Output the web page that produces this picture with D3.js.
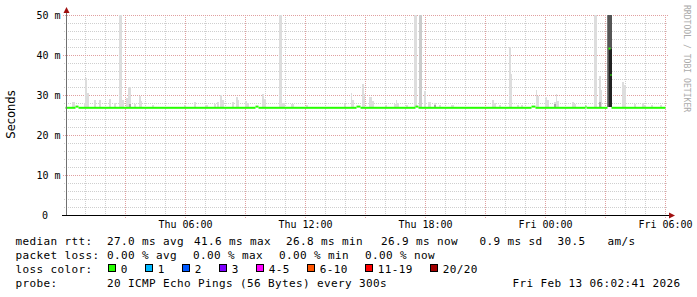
<!DOCTYPE html>
<html><head><meta charset="utf-8">
<script src="https://cdn.jsdelivr.net/npm/d3@7"></script>
<style>
html,body{margin:0;padding:0;background:#fff;}
svg{display:block;}
text{font-family:"DejaVu Sans Mono",monospace;fill:#000;}
</style></head><body>
<svg id="chart" width="697" height="297"></svg>
<script>
// ---------- data ----------
const xTickHours = [6, 12, 18, 24, 30];
const xTickLabels = ["Thu 06:00", "Thu 12:00", "Thu 18:00", "Fri 00:00", "Fri 06:00"];
const yTickValues = [0, 10, 20, 30, 40, 50];
const yTickLabels = ["0", "10 m", "20 m", "30 m", "40 m", "50 m"];

// median rtt in ms, step series: [hour since Thu 00:00, value]  (null = no median drawn)
const medianSteps = [
  [0, 26.8], [0.50, 27.1], [0.65, 26.8], [9.50, 27.1], [9.65, 26.8],
  [14.55, 27.1], [14.75, 26.8], [17.50, 27.1], [17.65, 26.8],
  [23.30, 27.1], [23.50, 26.8], [26.00, 27.1], [26.05, 26.8],
  [27.10, null], [27.15, 41.6], [27.25, 35.0], [27.30, 26.8], [30, null]
];

// smoke (ping spread): [start hour, end hour, top ms, density level]
const smoke = [
  [0.30,0.45,28.25,1],[0.90,0.95,28.0,1],[0.95,1.05,34.2,1],[1.05,1.15,30.6,1],
  [1.40,1.50,28.75,1],[1.65,1.75,28.75,1],[2.15,2.25,29.0,1],[2.40,2.50,28.0,1],
  [2.65,2.80,52,1],[2.80,2.90,28.75,1],[3.00,3.10,29.2,1],[3.10,3.25,32.0,1],
  [3.15,3.25,27.8,3],[3.40,3.50,27.8,1],[3.65,3.75,29.75,1],[3.75,3.80,28.5,1],
  [4.30,4.40,27.5,1],[5.90,6.00,27.5,1],[6.40,6.50,28.2,1],[6.95,7.10,27.5,1],
  [7.40,7.50,27.8,1],[7.55,7.65,28.2,1],[7.70,7.80,30.0,1],[7.80,7.90,28.7,1],
  [8.30,8.40,28.2,1],[8.50,8.60,29.5,1],[8.60,8.65,28.7,1],[8.95,9.05,28.5,1],
  [9.05,9.15,28.0,1],[9.80,9.90,30.25,1],[9.90,10.00,29.0,1],[10.65,10.80,52,1],
  [10.80,10.95,28.0,1],[11.25,11.40,27.8,1],[12.00,12.10,27.5,1],[13.90,14.00,27.8,1],
  [14.25,14.30,30.6,1],[14.30,14.40,28.7,1],[14.80,14.90,32.75,1],[14.90,14.95,30.2,1],
  [15.15,15.30,29.5,1],[15.30,15.40,28.5,1],[15.95,16.05,27.5,1],[16.40,16.50,27.8,1],
  [16.50,16.55,28.8,1],[16.55,16.65,28.0,1],[17.00,17.10,27.5,1],[17.40,17.55,52,1],
  [17.65,17.80,52,2],[17.90,18.00,31.0,1],[18.10,18.25,28.3,1],[18.40,18.50,28.0,1],
  [18.40,18.50,27.6,3],[18.65,18.75,27.5,1],[19.25,19.40,27.5,1],[21.30,21.40,28.75,1],
  [21.40,21.50,28.0,1],[21.65,21.75,27.5,1],[22.15,22.25,42.0,1],[22.25,22.30,35.2,1],
  [22.55,22.65,27.4,1],[22.75,22.85,27.5,1],[23.50,23.55,31.25,1],[23.55,23.65,29.8,1],
  [23.95,24.05,29.5,1],[24.05,24.15,28.8,1],[24.40,24.50,28.2,1],[24.40,24.50,27.8,3],
  [24.50,24.55,30.2,1],[24.55,24.65,28.5,1],[25.30,25.40,28.3,1],[25.40,25.50,27.8,1],
  [26.40,26.55,52,1],[26.65,26.75,34.75,1],[26.70,26.80,31.2,1],[26.65,26.75,28.3,3],
  [27.075,27.325,52,4],[27.125,27.30,52,5],[27.15,27.30,41.5,6],
  [27.80,27.90,33.3,1],[27.90,28.00,32.5,1],[28.40,28.50,27.8,1],[28.80,28.90,28.0,1],
  [28.90,29.00,27.6,1],[29.25,29.35,27.4,1],[29.70,29.80,27.5,1]
];
const smokeFloor = 27.0;

const medianStats = ["27.0", "41.6", "26.8", "26.9", "0.9", "30.5"];
const lossStats = ["0.00", "0.00", "0.00", "0.00"];
const lossLabels = ["0", "1", "2", "3", "4-5", "6-10", "11-19", "20/20"];
const lossColors = ["#26ff00", "#00b8ff", "#0059ff", "#7e00ff", "#ff00ff", "#ff5500", "#ff0000", "#a10000"];
const probeText = "20 ICMP Echo Pings (56 Bytes) every 300s";
const dateText = "Fri Feb 13 06:02:41 2026";
const watermark = "RRDTOOL / TOBI OETIKER";

// ---------- drawing ----------
const svg = d3.select("#chart");
const x = d3.scaleLinear().domain([0, 30]).range([65.5, 665.5]);
const y = d3.scaleLinear().domain([0, 50]).range([215, 15]);
const shade = d3.scaleOrdinal().domain([1,2,3,4,5,6])
  .range(["#dddddd", "#cbcbcb", "#a9a9a9", "#7a7a7a", "#555555", "#222222"]);

// grid
const grid = svg.append("g");
const hMinor = d3.range(0, 51, 2).filter(v => v % 10 !== 0);
grid.selectAll(".hmin").data(hMinor).join("line")
  .attr("x1", 64).attr("x2", 668)
  .attr("y1", d => Math.round(y(d)) + 0.5).attr("y2", d => Math.round(y(d)) + 0.5)
  .attr("stroke", "#cfcfcf").attr("stroke-dasharray", "1,1");
const vMinor = d3.range(1, 31).filter(h => h % 3 !== 0);
grid.selectAll(".vmin").data(vMinor).join("line")
  .attr("x1", d => x(d)).attr("x2", d => x(d))
  .attr("y1", 15).attr("y2", 215)
  .attr("stroke", "#cfcfcf").attr("stroke-dasharray", "1,1");
grid.selectAll(".hmaj").data(yTickValues.filter(v => v > 0)).join("line")
  .attr("x1", 63).attr("x2", 668)
  .attr("y1", d => Math.round(y(d)) + 0.5).attr("y2", d => Math.round(y(d)) + 0.5)
  .attr("stroke", "#e0a0a0").attr("stroke-dasharray", "1,1");
grid.selectAll(".vmaj").data(d3.range(3, 31, 3)).join("line")
  .attr("x1", d => x(d)).attr("x2", d => x(d))
  .attr("y1", 15).attr("y2", 218)
  .attr("stroke", "#e0a0a0").attr("stroke-dasharray", "1,1");

// clip
svg.append("clipPath").attr("id", "plot").append("rect")
  .attr("x", x(0)).attr("y", 15).attr("width", x(30) - x(0)).attr("height", 200);

// smoke
svg.append("g").attr("clip-path", "url(#plot)")
  .selectAll("rect").data(smoke.slice().sort((a, b) => a[3] - b[3])).join("rect")
  .attr("x", d => x(d[0])).attr("width", d => x(d[1]) - x(d[0]))
  .attr("y", d => y(d[2])).attr("height", d => y(smokeFloor) - y(d[2]))
  .attr("fill", d => shade(d[3])).attr("shape-rendering", "crispEdges");

// median
const medSegs = medianSteps.slice(0, -1).map((d, i) => [d[0], medianSteps[i + 1][0], d[1]])
  .filter(d => d[2] !== null);
svg.append("g").selectAll("rect").data(medSegs).join("rect")
  .attr("x", d => x(d[0])).attr("width", d => x(d[1]) - x(d[0]))
  .attr("y", d => y(d[2]) - 1).attr("height", 2)
  .attr("fill", lossColors[0]);

// axes
svg.append("line").attr("x1", 66.5).attr("x2", 66.5).attr("y1", 215).attr("y2", 12)
  .attr("stroke", "#707070");
svg.append("line").attr("x1", 62).attr("x2", 670).attr("y1", 215.5).attr("y2", 215.5)
  .attr("stroke", "#000");
svg.append("path").attr("d", "M669,212.5L675,215.5L669,218.5Z").attr("fill", "#a01010");
svg.append("path").attr("d", "M63.5,13L66.5,7L69.5,13Z").attr("fill", "#a01010");

// y tick labels
svg.append("g").selectAll("text").data(yTickValues).join("text")
  .attr("x", (d, i) => d === 0 ? 45 : 60.5)
  .attr("y", d => y(d) + 3.6)
  .attr("text-anchor", d => d === 0 ? "middle" : "end")
  .attr("font-size", "10px")
  .style("white-space", "pre")
  .text((d, i) => yTickLabels[i]);

// x tick labels
svg.append("g").selectAll("text").data(xTickHours).join("text")
  .attr("x", d => x(d)).attr("y", 228)
  .attr("text-anchor", "middle").attr("font-size", "10px")
  .text((d, i) => xTickLabels[i]);

// y axis title
svg.append("text").attr("transform", "translate(15,114.5) rotate(-90)")
  .attr("text-anchor", "middle")
  .style("font-family", "'DejaVu Sans', sans-serif").attr("font-size", "11.5px")
  .text("Seconds");

// watermark
svg.append("text").attr("transform", "translate(684,5) rotate(90)")
  .attr("font-size", "8.1px").attr("fill", "#aaaaaa").style("fill", "#aaaaaa")
  .text(watermark);

// legend
const leg = svg.append("g").attr("font-size", "11px").style("letter-spacing", "0.38px")
  .style("white-space", "pre");
const row1 = [["median rtt:", 15.5], [medianStats[0] + " ms avg", 107], [medianStats[1] + " ms max", 194],
  [medianStats[2] + " ms min", 286], [medianStats[3] + " ms now", 381], [medianStats[4] + " ms sd", 479.5],
  [medianStats[5], 557.5], ["am/s", 607.5]];
const row2 = [["packet loss:", 15.5], [lossStats[0] + " % avg", 107], [lossStats[1] + " % max", 193],
  [lossStats[2] + " % min", 279], [lossStats[3] + " % now", 365]];
const row4 = [["probe:", 15.5], [probeText, 107], [dateText, 512.5]];
[[row1, 245], [row2, 259], [row4, 287]].forEach(([row, by]) => {
  leg.append("g").selectAll("text").data(row).join("text")
    .attr("x", d => d[1]).attr("y", by).text(d => d[0]);
});
leg.append("text").attr("x", 15.5).attr("y", 273).text("loss color:");
let sx = 108.3;
const sqPos = lossLabels.map(l => { const p = sx; sx += 30 + 7 * l.length; return p; });
const lg = leg.append("g").selectAll("g").data(lossLabels).join("g");
lg.append("rect").attr("x", (d, i) => Math.round(sqPos[i]) + 0.5).attr("y", 264.5)
  .attr("width", 7).attr("height", 7)
  .attr("fill", (d, i) => lossColors[i]).attr("stroke", "#000");
lg.append("text").attr("x", (d, i) => sqPos[i] + 12.5).attr("y", 273).text(d => d);
</script>
</body></html>
